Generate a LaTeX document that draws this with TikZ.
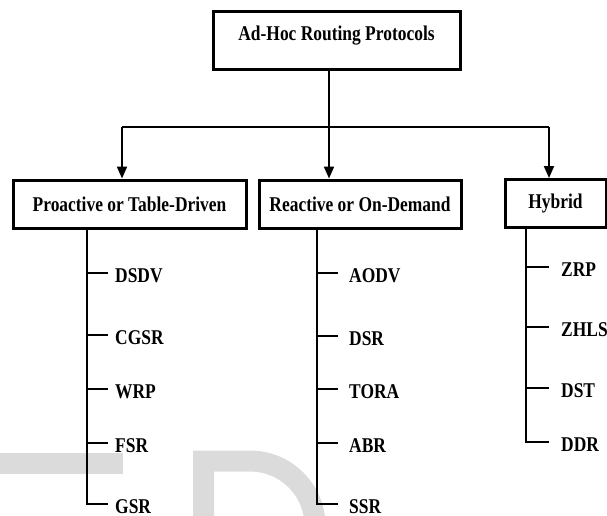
\documentclass[tikz,border=0pt]{standalone}
\usepackage{fontspec}
\setmainfont{Liberation Serif}[FakeStretch=0.83]
\usetikzlibrary{arrows.meta}
\tikzset{
    rootbox/.style = {rectangle, line width=3pt, draw=black, minimum width=247pt, inner ysep=15pt, text height=14pt, text depth=14pt},
    classbox/.style = {rectangle, line width=3pt, draw=black, minimum height=48pt, inner sep=0pt},
    item/.style = {anchor=west, inner ysep=0pt, inner xsep=#1, text height=18pt, text depth=0pt},
    item/.default = 7pt,
    edgen/.style = {line width=2pt},
    edgea/.style = {-{Triangle[width=10pt,length=12pt]}, line width=2pt},
    wmark/.style = {line width=21pt, draw=black!14}, % watermark
}

\begin{document}
\begin{tikzpicture}[x=1pt, y=-1pt, font=\fontsize{21}{25}\selectfont\bfseries]
\useasboundingbox (0,0) rectangle (607,515);
%
\draw[wmark] (-10,463) -- (123,463);
\draw[wmark] (203.5,530) -- (203.5,461) -- (250,461) arc[start angle=-90, end angle=0, radius=65];
%
\node[rootbox] at (336.5,40) (root) {Ad-Hoc Routing Protocols};
\node[classbox, minimum width=233pt] at (129.5,204) (pro) {Proactive or Table-Driven};
\node[classbox, minimum width=202pt] at (360,204) (rea) {Reactive or On-Demand};
\node[classbox, minimum width=101pt] at (555.5,203.5) (hyb) {Hybrid};
%
\coordinate (split) at (329,127);
\coordinate (pa) at (122,127);
\coordinate (ha) at (549,127);
\draw[edgen] (root.south -| split) -- (split);
\draw[edgen] (pa) -- (ha);
\draw[edgea] (pa) -- (pa |- pro.north);
\draw[edgea] (split) -- (split |- rea.north);
\draw[edgea] (ha) -- (ha |- hyb.north);
%
\node[item] at (108,273) (dsdv) {DSDV};
\node[item] at (108,335) (cgsr) {CGSR};
\node[item] at (108,389) (wrp) {WRP};
\node[item] at (108,443) (fsr) {FSR};
\node[item] at (108,504) (gsr) {GSR};
%
\node[item=11pt] at (338,273) (aodv) {AODV};
\node[item=11pt] at (338,336) (dsr) {DSR};
\node[item=11pt] at (338,389) (tora) {TORA};
\node[item=11pt] at (338,443) (abr) {ABR};
\node[item=11pt] at (338,504) (ssr) {SSR};
%
\node[item=12pt] at (549,267) (zrp) {ZRP};
\node[item=12pt] at (549,327) (zhls) {ZHLS};
\node[item=12pt] at (549,388) (dst) {DST};
\node[item=12pt] at (549,442) (ddr) {DDR};
%
\coordinate (ptop) at (87,0);
\coordinate (rtop) at (317,0);
\coordinate (htop) at (526,0);
\draw[edgen] (pro.south -| ptop) |- (gsr.west);
\draw[edgen] (dsdv.west -| ptop) -- (dsdv.west);
\draw[edgen] (cgsr.west -| ptop) -- (cgsr.west);
\draw[edgen] (wrp.west -| ptop) -- (wrp.west);
\draw[edgen] (fsr.west -| ptop) -- (fsr.west);
%
\draw[edgen] (rea.south -| rtop) |- (ssr.west);
\draw[edgen] (aodv.west -| rtop) -- (aodv.west);
\draw[edgen] (dsr.west -| rtop) -- (dsr.west);
\draw[edgen] (tora.west -| rtop) -- (tora.west);
\draw[edgen] (abr.west -| rtop) -- (abr.west);
%
\draw[edgen] (hyb.south -| htop) |- (ddr.west);
\draw[edgen] (zrp.west -| htop) -- (zrp.west);
\draw[edgen] (zhls.west -| htop) -- (zhls.west);
\draw[edgen] (dst.west -| htop) -- (dst.west);

\end{tikzpicture}
\end{document}
